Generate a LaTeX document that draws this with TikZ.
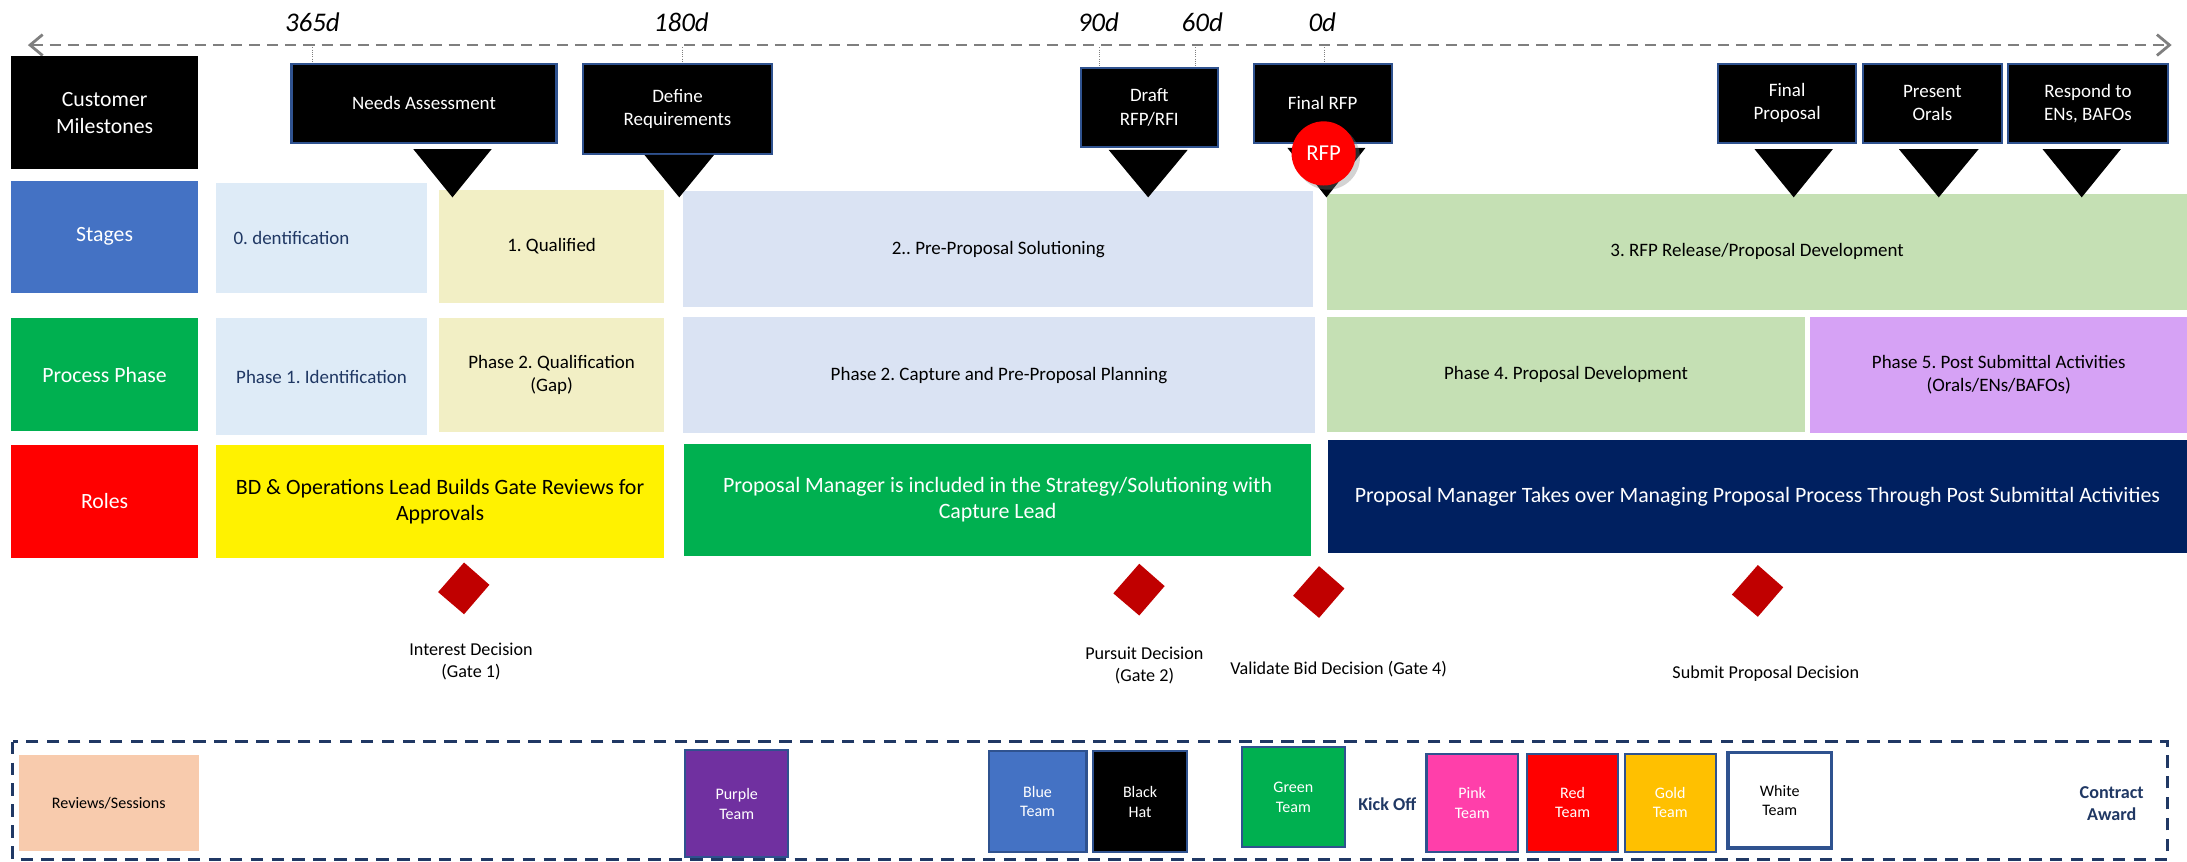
\documentclass[tikz,border=0pt]{standalone}
\usepackage{fontspec}
\setmainfont{Carlito}
\usetikzlibrary{arrows.meta,shapes.geometric,shadows}
\definecolor{edgeblue}{HTML}{2F528F}
\definecolor{hdblue}{HTML}{4472C4}
\definecolor{hdgreen}{HTML}{00B050}
\definecolor{ltblue}{HTML}{DEEBF7}
\definecolor{ltyellow}{HTML}{F2EFC5}
\definecolor{ltsteel}{HTML}{DAE3F3}
\definecolor{ltgreen}{HTML}{C5E0B4}
\definecolor{ltviolet}{HTML}{D6A2F5}
\definecolor{navy}{HTML}{002060}
\definecolor{inknavy}{HTML}{203864}
\definecolor{gatered}{HTML}{C00000}
\definecolor{peach}{HTML}{F8CBAD}
\definecolor{teampurple}{HTML}{7030A0}
\definecolor{teampink}{HTML}{FF3FAA}
\definecolor{teamgold}{HTML}{FFC000}
\definecolor{linegray}{HTML}{7F7F7F}
\frenchspacing
\begin{document}
\begin{tikzpicture}[x=1pt,y=-1pt,
  every node/.style={inner sep=0pt,align=center},
  hdr/.style={fill=#1,text=white,minimum width=134pt,font=\fontsize{15.6}{19}\selectfont},
  mstone/.style={fill=black,draw=edgeblue,line width=1.5pt,text=white,font=\fontsize{13.6}{16.6}\selectfont},
  cell/.style={fill=#1,font=\fontsize{13.6}{16.5}\selectfont},
  role/.style={fill=#1,font=\fontsize{15.7}{19}\selectfont},
  day/.style={font=\fontsize{19.3}{22}\selectfont\itshape,anchor=base},
  gatetext/.style={font=\fontsize{13}{15.6}\selectfont},
  team/.style={fill=#1,draw=edgeblue,line width=1.5pt,text=white,font=\fontsize{11.5}{14}\selectfont},
  marker/.style={text=inknavy,font=\fontsize{13}{15.5}\selectfont\bfseries}]
  \path[use as bounding box] (0,0) rectangle (1568,618);
  \coordinate (tl) at (20,32.3);
  \coordinate (tr) at (1557,32.3);
  \draw[linegray,line width=2pt,dash pattern=on 8pt off 5pt,
    {Straight Barb[length=9pt,width=15pt]}-{Straight Barb[length=9pt,width=15pt]}] (tl) -- (tr);
  \node[day] (d365) at (224,22.5) {365d};
  \node[day] (d180) at (488.5,22.5) {180d};
  \node[day] (d90) at (787.5,22.5) {90d};
  \node[day] (d60) at (862,22.5) {60d};
  \node[day] (d0) at (948,22.5) {0d};
  \foreach \tx/\ty in {224/45,489/45,788/48,857/48,949.5/45}
    \draw[linegray,line width=.6pt,densely dotted] (\tx,34) -- (\tx,\ty);
  \node[hdr=black,minimum height=81pt] (cust) at (75,81) {Customer\\Milestones};
  \node[hdr=hdblue,minimum height=80.5pt] (stages) at (75,169.7) {Stages};
  \node[hdr=hdgreen,minimum height=81pt] (phase) at (75,268.6) {Process Phase};
  \node[hdr=red,minimum height=81pt] (roles) at (75,359.5) {Roles};
  \node[cell=ltblue,text=inknavy,minimum width=151pt,minimum height=79pt,text width=126pt,align=flush left] (st0) at (230.5,170.5) {0. dentification};
  \node[cell=ltyellow,minimum width=161pt,minimum height=81.5pt] (st1) at (395.5,176.75) {1. Qualified};
  \node[cell=ltsteel,minimum width=451.5pt,minimum height=83.4pt] (st2) at (715.75,178.7) {2.. Pre-Proposal Solutioning};
  \node[cell=ltgreen,minimum width=616.5pt,minimum height=83pt] (st3) at (1259.75,180.5) {3. RFP Release/Proposal Development};
  \node[cell=ltblue,text=inknavy,minimum width=151pt,minimum height=83.7pt] (ph1) at (230.5,270) {Phase 1. Identification};
  \node[cell=ltyellow,minimum width=161pt,minimum height=81.3pt] (ph2) at (395.5,268.9) {Phase 2. Qualification\\(Gap)};
  \node[cell=ltsteel,minimum width=452.5pt,minimum height=83.7pt] (ph3) at (716.25,268.9) {Phase 2. Capture and Pre-Proposal Planning};
  \node[cell=ltgreen,minimum width=342.4pt,minimum height=82.5pt] (ph4) at (1122.8,268.25) {Phase 4. Proposal Development};
  \node[cell=ltviolet,minimum width=270pt,minimum height=83.7pt] (ph5) at (1433,268.9) {Phase 5. Post Submittal Activities\\(Orals/ENs/BAFOs)};
  \node[role=yellow,minimum width=321pt,minimum height=81.3pt] (rl1) at (315.5,359.7) {BD \& Operations Lead Builds Gate Reviews for\\Approvals};
  \node[role=hdgreen,text=white,minimum width=449.5pt,minimum height=80.6pt] (rl2) at (715.25,358.3) {Proposal Manager is included in the Strategy/Solutioning with\\Capture Lead};
  \node[role=navy,text=white,minimum width=616pt,minimum height=81.2pt] (rl3) at (1260,356.1) {Proposal Manager Takes over Managing Proposal Process Through Post Submittal Activities};
  \node[mstone,minimum width=190pt,minimum height=56.5pt] (needs) at (304,74) {Needs Assessment};
  \node[mstone,minimum width=136pt,minimum height=64.5pt] (define) at (485.75,78) {Define\\Requirements};
  \node[mstone,minimum width=98.5pt,minimum height=56.5pt] (draft) at (824,77) {Draft\\RFP/RFI};
  \node[mstone,minimum width=99pt,minimum height=56.5pt] (finalrfp) at (948.25,74) {Final RFP};
  \node[mstone,minimum width=99pt,minimum height=56.5pt] (finalprop) at (1281.3,74) {Final\\Proposal};
  \node[mstone,minimum width=99.5pt,minimum height=56.5pt] (orals) at (1385.5,74) {Present\\Orals};
  \node[mstone,minimum width=114.5pt,minimum height=56.5pt] (bafos) at (1497,74) {Respond to\\ENs, BAFOs};
  \foreach \tx/\ttop/\thw in {324.4/107/28,487/111/25,823.2/107.5/28.3,951/106/28,1286/107/28,1390/107/28.5,1492.5/107/28}
    \fill (\tx-\thw,\ttop) -- (\tx+\thw,\ttop) -- (\tx,141.5) -- cycle;
  \node[circle,fill=red,minimum size=46pt,text=white,font=\fontsize{16.3}{19}\selectfont,
    drop shadow={shadow xshift=3pt,shadow yshift=-3pt,opacity=.35}] (rfp) at (949,110) {RFP};
  \foreach \gx/\gy in {332.7/421.9,816.8/422.8,945.7/424.5,1260.3/423.7}
    \fill[gatered] (\gx,\gy) ++(0,-18.6) -- ++(18.2,16) -- ++(-18.2,21.1) -- ++(-18.6,-15.9) -- cycle;
  \node[gatetext] (g1txt) at (337.7,474.1) {Interest Decision\\(Gate 1)};
  \node[gatetext] (g2txt) at (820.5,477.4) {Pursuit Decision\\(Gate 2)};
  \node[gatetext] (g3txt) at (959.8,479.6) {Validate Bid Decision (Gate 4)};
  \node[gatetext] (g4txt) at (1266,482.7) {Submit Proposal Decision};
  \draw[inknavy,line width=2pt,dash pattern=on 9pt off 6pt] (9,531.7) rectangle (1554,616);
  \node[fill=peach,minimum width=128.7pt,minimum height=68.6pt,font=\fontsize{11.5}{14}\selectfont] (rev) at (78,575.6) {Reviews/Sessions};
  \node[team=teampurple,minimum width=74pt,minimum height=76.7pt] (purple) at (528.2,576.3) {Purple\\Team};
  \node[team=hdblue,minimum width=70.2pt,minimum height=72.6pt] (blue) at (743.9,574.8) {Blue\\Team};
  \node[team=black,minimum width=67.2pt,minimum height=72.3pt] (blackhat) at (817.4,574.9) {Black\\Hat};
  \node[team=hdgreen,minimum width=74pt,minimum height=71.9pt] (green) at (927.3,571.5) {Green\\Team};
  \node[marker] (kickoff) at (994.6,576.7) {Kick Off};
  \node[team=teampink,minimum width=65.5pt,minimum height=69.8pt] (pink) at (1055.5,575.7) {Pink\\Team};
  \node[team=red,minimum width=65.5pt,minimum height=70.2pt] (redteam) at (1127.5,575.5) {Red\\Team};
  \node[team=teamgold,minimum width=65.5pt,minimum height=70.2pt] (gold) at (1197.5,575.5) {Gold\\Team};
  \node[team=white,text=black,line width=2.5pt,minimum width=74.5pt,minimum height=68.5pt] (white) at (1276,573.9) {White\\Team};
  \node[marker] (award) at (1514,576) {Contract\\Award};
\end{tikzpicture}
\end{document}
